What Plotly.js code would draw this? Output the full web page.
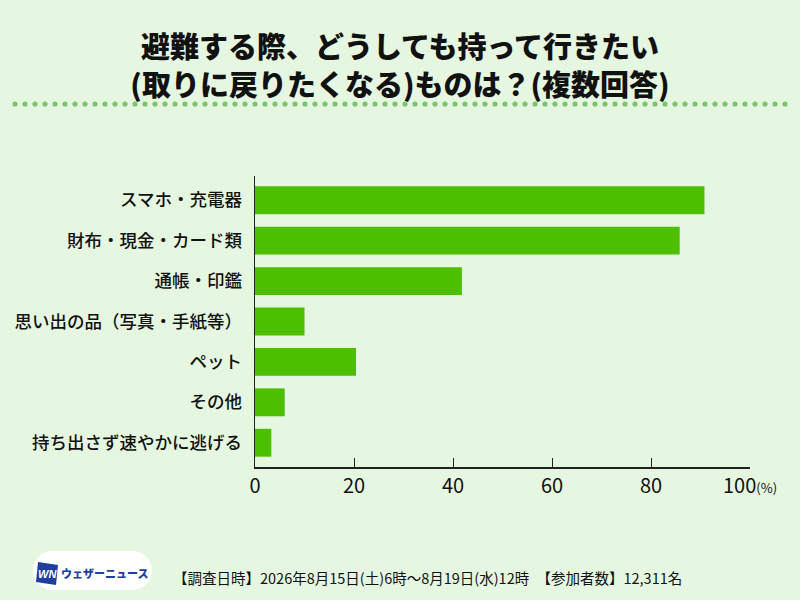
<!DOCTYPE html>
<html><head><meta charset="utf-8">
<script src="https://cdn.plot.ly/plotly-3.0.1.min.js"></script>
<style>html,body{margin:0;padding:0;background:#e5f7e0;}#c{width:800px;height:600px;}</style>
</head><body><div id="c"></div>
<script>
const categories = ["スマホ・充電器","財布・現金・カード類","通帳・印鑑","思い出の品（写真・手紙等）","ペット","その他","持ち出さず速やかに逃げる"];
const values = [90.8, 85.8, 41.8, 10.0, 20.4, 6.0, 3.3];
const tickVals = [0, 20, 40, 60, 80, 100];
const tickText = ["0", "20", "40", "60", "80", "100"];
const unitText = "(%)";
const titleLines = ["避難する際、どうしても持って行きたい", "(取りに戻りたくなる)ものは？(複数回答)"];
const footerText = "【調査日時】2026年8月15日(土)6時〜8月19日(水)12時　【参加者数】12,311名";
const logoText = "ウェザーニュース";

const L = 255, R = 750, T = 176, B = 467;
const px = x => (x - L) / (R - L);
const py = y => (B - y) / (B - T);

const shapes = [];
for (let i = 0; i < 78; i++) {
  const cx = 15 + i * 10, cy = 104, r = 2.6;
  shapes.push({type:'circle', xref:'paper', yref:'paper', x0:px(cx-r), x1:px(cx+r), y0:py(cy+r), y1:py(cy-r), fillcolor:'#7cc56c', line:{width:0}, layer:'above'});
}
(function(){
  const x0=33,x1=152,y0=551,y1=590,r=19.5;
  const X=v=>px(v), Y=v=>py(v);
  shapes.push({type:'rect', xref:'paper', yref:'paper', x0:X(x0+r), x1:X(x1-r), y0:Y(y1), y1:Y(y0), fillcolor:'#ffffff', line:{width:0}});
  shapes.push({type:'circle', xref:'paper', yref:'paper', x0:X(x0), x1:X(x0+2*r), y0:Y(y1), y1:Y(y0), fillcolor:'#ffffff', line:{width:0}});
  shapes.push({type:'circle', xref:'paper', yref:'paper', x0:X(x1-2*r), x1:X(x1), y0:Y(y1), y1:Y(y0), fillcolor:'#ffffff', line:{width:0}});
  shapes.push({type:'path', xref:'paper', yref:'paper', path:`M ${X(38)},${Y(562)} L ${X(58)},${Y(565)} L ${X(56)},${Y(585)} L ${X(36)},${Y(582)} Z`, fillcolor:'#1e3f9e', line:{width:0}});
})();

const data = [{
  type:'bar', orientation:'h', y:categories, x:values,
  marker:{color:'#4cbf00', line:{width:0}},
  hoverinfo:'none'
}];

const tickLabels = tickText.map((t, i) => i === tickText.length - 1 ? t + '<span style="font-size:13px">' + unitText + '</span>' : t);

const layout = {
  width:800, height:600,
  paper_bgcolor:'#e5f7e0', plot_bgcolor:'#e5f7e0',
  margin:{l:L, r:800-R, t:T, b:600-B, pad:0},
  showlegend:false,
  bargap:0.31,
  font:{family:'"Noto Sans CJK JP", "Noto Sans", sans-serif', color:'#111'},
  title:{text:titleLines.join('<br>'), x:0.5, xref:'container', xanchor:'center', y:1-58/600, yref:'container', yanchor:'middle',
    font:{size:29, weight:900, family:'"Noto Sans CJK JP", sans-serif', color:'#111'}},
  xaxis:{range:[0,100], tickvals:tickVals, ticktext:tickLabels, ticks:'inside', ticklen:9, tickwidth:1, tickcolor:'#222',
    showline:true, linecolor:'#222', linewidth:1.5, showgrid:false, zeroline:false, fixedrange:true,
    tickfont:{size:20, family:'"Noto Sans CJK JP", sans-serif', color:'#111'}},
  yaxis:{type:'category', range:[6.6,-0.6], showline:true, linecolor:'#222', linewidth:1.5, showgrid:false, zeroline:false,
    ticks:'outside', ticklen:8, tickcolor:'rgba(0,0,0,0)', fixedrange:true,
    tickfont:{size:17.5, weight:500, family:'"Noto Sans CJK JP", sans-serif', color:'#111'}},
  shapes:shapes,
  annotations:[
    {text:'<b><i>WN</i></b>', xref:'paper', yref:'paper', x:px(47), y:py(573.5), xanchor:'center', yanchor:'middle', showarrow:false,
      font:{size:11, color:'#ffffff', family:'Arial, sans-serif'}},
    {text:logoText, xref:'paper', yref:'paper', x:px(59), y:py(573), xanchor:'left', yanchor:'middle', showarrow:false,
      font:{size:11, weight:900, color:'#1e3f9e'}},
    {text:footerText, xref:'paper', yref:'paper', x:px(171), y:py(577), xanchor:'left', yanchor:'middle', showarrow:false,
      font:{size:14.5, color:'#111'}}
  ]
};
Plotly.newPlot('c', data, layout, {displayModeBar:false, staticPlot:true});
</script></body></html>
